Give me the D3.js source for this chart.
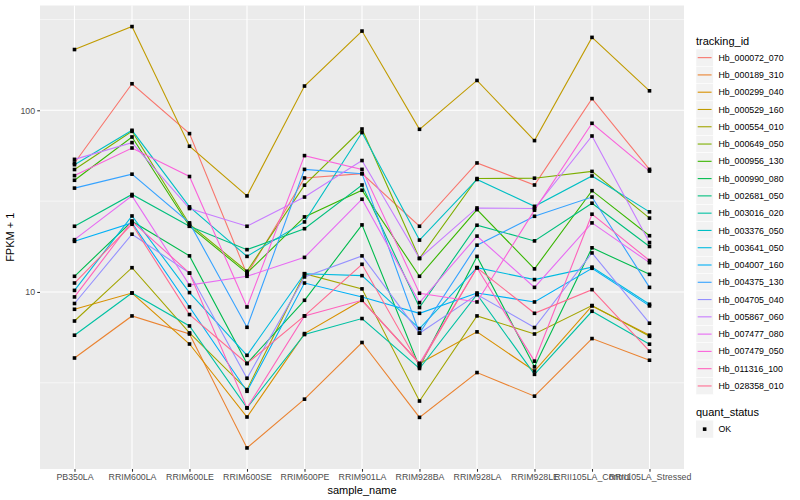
<!DOCTYPE html>
<html>
<head>
<meta charset="utf-8">
<script src="https://cdn.jsdelivr.net/npm/d3@7"></script>
<style>
  body { margin: 0; background: #fff; }
  text { font-family: "Liberation Sans", Arial, sans-serif; }
</style>
</head>
<body>
<script>
/* values (FPKM + 1) */
var samples = ['PB350LA', 'RRIM600LA', 'RRIM600LE', 'RRIM600SE', 'RRIM600PE', 'RRIM901LA',
  'RRIM928BA', 'RRIM928LA', 'RRIM928LE', 'RRII105LA_Control', 'RRII105LA_Stressed'];

var trackingIds = ['Hb_000072_070', 'Hb_000189_310', 'Hb_000299_040', 'Hb_000529_160',
  'Hb_000554_010', 'Hb_000649_050', 'Hb_000956_130', 'Hb_000990_080', 'Hb_002681_050',
  'Hb_003016_020', 'Hb_003376_050', 'Hb_003641_050', 'Hb_004007_160', 'Hb_004375_130',
  'Hb_004705_040', 'Hb_005867_060', 'Hb_007477_080', 'Hb_007479_050', 'Hb_011316_100',
  'Hb_028358_010'];

var fpkm = [
  [51.3, 140, 74.4, 12.5, 42.4, 44.8, 23.0, 51.3, 38.8, 116, 47.3],
  [4.33, 7.38, 5.87, 1.385, 2.57, 5.27, 2.04, 3.60, 2.67, 5.54, 4.21],
  [8.03, 9.87, 5.17, 2.05, 5.90, 9.00, 4.04, 6.03, 3.67, 8.38, 5.78],
  [216, 289, 63.4, 33.8, 136, 273, 78.6, 146, 68.1, 252, 128],
  [6.92, 13.6, 5.95, 2.90, 12.6, 10.4, 2.51, 7.38, 5.87, 8.42, 5.70],
  [47.2, 76.6, 23.6, 13.0, 38.7, 78.9, 15.3, 42.1, 42.3, 46.1, 25.5],
  [41.2, 71.3, 23.0, 12.7, 25.9, 36.3, 12.2, 28.4, 13.4, 36.1, 20.4],
  [12.2, 24.5, 15.8, 4.04, 9.00, 23.4, 3.87, 15.7, 3.87, 17.5, 12.5],
  [23.0, 34.4, 23.0, 17.1, 22.3, 38.8, 8.21, 23.3, 19.1, 30.8, 17.8],
  [5.78, 9.87, 6.50, 2.30, 5.83, 7.14, 3.79, 9.68, 3.52, 7.83, 5.16],
  [50.2, 77.6, 29.4, 15.7, 24.3, 75.4, 19.3, 41.6, 29.6, 43.5, 27.6],
  [10.2, 26.2, 9.92, 4.48, 12.6, 12.3, 6.29, 13.6, 11.7, 13.7, 8.56],
  [19.0, 24.0, 8.27, 2.84, 11.2, 9.39, 7.63, 9.87, 8.81, 13.5, 8.38],
  [37.3, 44.5, 24.0, 6.39, 47.3, 44.8, 5.93, 18.1, 26.1, 33.3, 10.6],
  [8.64, 20.8, 12.7, 3.35, 12.1, 15.8, 5.93, 9.68, 6.37, 16.4, 6.73],
  [53.7, 66.4, 28.8, 23.0, 33.3, 52.9, 15.3, 29.0, 28.8, 72.2, 18.7],
  [19.4, 33.8, 10.9, 12.2, 15.5, 32.4, 8.74, 20.3, 10.6, 24.0, 14.5],
  [43.7, 62.0, 43.2, 8.27, 56.3, 47.3, 9.84, 8.81, 28.2, 84.8, 46.3],
  [9.39, 24.5, 12.7, 2.30, 7.38, 9.00, 4.04, 13.6, 4.16, 26.8, 14.9],
  [11.2, 23.6, 7.51, 4.04, 7.38, 14.2, 3.94, 13.6, 7.63, 10.3, 4.72]
];

var hueColours = ['#F8766D', '#EA8331', '#D89000', '#C09B00', '#A3A500', '#7CAE00', '#39B600',
  '#00BB4E', '#00BF7D', '#00C1A3', '#00BFC4', '#00BAE0', '#00B0F6', '#35A2FF', '#9590FF',
  '#C77CFF', '#E76BF3', '#FA62DB', '#FF62BC', '#FF6C91'];

var yTicks = [10, 100];
var quantStatus = ['OK'];

var w = 800,
    h = 500;

var pLeft = 40, pRight = 684, pTop = 5.5, pBottom = 469;

var svg = d3.select('body').append('svg')
  .attr('width', w)
  .attr('height', h);

var x = d3.scalePoint()
  .domain(samples)
  .range([pLeft, pRight])
  .padding(0.6);

// log scale with ggplot's 5% expansion
var ext = d3.extent(d3.merge(fpkm));
var lo = Math.log10(ext[0]), hi = Math.log10(ext[1]), pad = (hi - lo) * 0.05;
var y = d3.scaleLog()
  .domain([Math.pow(10, lo - pad), Math.pow(10, hi + pad)])
  .range([pBottom, pTop]);

var colour = d3.scaleOrdinal().domain(trackingIds).range(hueColours);

// panel
svg.append('rect')
  .attr('x', pLeft).attr('y', pTop)
  .attr('width', pRight - pLeft).attr('height', pBottom - pTop)
  .attr('fill', '#EBEBEB');

// minor grid half way between the breaks (in log space)
var minor = [];
for (var e = -1; e <= 3; e++) {
  var m = Math.pow(10, e + 0.5);
  if (m > y.domain()[0] && m < y.domain()[1]) minor.push(m);
}

svg.append('g').selectAll('line')
  .data(minor)
  .enter()
  .append('line')
    .attr('x1', pLeft).attr('x2', pRight)
    .attr('y1', function(d) { return y(d); })
    .attr('y2', function(d) { return y(d); })
    .attr('stroke', '#fff')
    .attr('stroke-width', 0.55);

svg.append('g').selectAll('line')
  .data(yTicks)
  .enter()
  .append('line')
    .attr('x1', pLeft).attr('x2', pRight)
    .attr('y1', function(d) { return y(d); })
    .attr('y2', function(d) { return y(d); })
    .attr('stroke', '#fff')
    .attr('stroke-width', 1.1);

svg.append('g').selectAll('line')
  .data(samples)
  .enter()
  .append('line')
    .attr('y1', pTop).attr('y2', pBottom)
    .attr('x1', function(d) { return x(d); })
    .attr('x2', function(d) { return x(d); })
    .attr('stroke', '#fff')
    .attr('stroke-width', 1.1);

// lines
var line = d3.line()
  .x(function(d, i) { return x(samples[i]); })
  .y(function(d) { return y(d); });

svg.append('g').selectAll('path')
  .data(fpkm)
  .enter()
  .append('path')
    .attr('d', line)
    .attr('fill', 'none')
    .attr('stroke', function(d, i) { return colour(trackingIds[i]); })
    .attr('stroke-width', 1.1);

// points
var pts = [];
fpkm.forEach(function(row) {
  row.forEach(function(v, i) { pts.push({ s: samples[i], v: v }); });
});

svg.append('g').selectAll('rect')
  .data(pts)
  .enter()
  .append('rect')
    .attr('x', function(d) { return x(d.s) - 1.8; })
    .attr('y', function(d) { return y(d.v) - 1.8; })
    .attr('width', 3.6)
    .attr('height', 3.6)
    .attr('fill', '#000');

// axes
var yAxis = svg.append('g')
  .attr('transform', translation(pLeft, 0))
  .call(d3.axisLeft(y).tickValues(yTicks).tickFormat(d3.format('d'))
    .tickSize(2.75).tickPadding(2.2));

var xAxis = svg.append('g')
  .attr('transform', translation(0, pBottom))
  .call(d3.axisBottom(x).tickSize(2.75).tickPadding(2.2));

[yAxis, xAxis].forEach(function(a) {
  a.select('.domain').remove();
  a.selectAll('.tick line').attr('stroke', '#333333').attr('stroke-width', 1.07);
  a.selectAll('.tick text')
    .attr('fill', '#4D4D4D')
    .style('font-size', '8.8px')
    .style('font-family', '"Liberation Sans", Arial, sans-serif');
});

svg.append('text')
  .attr('x', (pLeft + pRight) / 2)
  .attr('y', 494)
  .attr('text-anchor', 'middle')
  .style('font-size', '11px')
  .text('sample_name');

svg.append('text')
  .attr('transform', translation(13.5, (pTop + pBottom) / 2) + ' rotate(-90)')
  .attr('text-anchor', 'middle')
  .style('font-size', '11px')
  .text('FPKM + 1');

// legend: tracking_id
var key = 17.28;
var legend = svg.append('g').attr('transform', translation(696, 0));

legend.append('text')
  .attr('x', 0).attr('y', 44.5)
  .style('font-size', '11px')
  .text('tracking_id');

var items = legend.selectAll('.item')
  .data(trackingIds)
  .enter()
  .append('g')
    .attr('transform', function(d, i) { return translation(0, 49 + i * key); });

items.append('rect')
  .attr('width', key).attr('height', key)
  .attr('fill', '#F2F2F2')
  .attr('stroke', '#fff')
  .attr('stroke-width', 0.5);

items.append('line')
  .attr('x1', 1.7).attr('x2', key - 1.7)
  .attr('y1', key / 2).attr('y2', key / 2)
  .attr('stroke', function(d) { return colour(d); })
  .attr('stroke-width', 1.1);

items.append('text')
  .attr('x', key + 5.2)
  .attr('y', key / 2 + 3.1)
  .style('font-size', '8.8px')
  .text(function(d) { return d; });

// legend: quant_status
legend.append('text')
  .attr('x', 0).attr('y', 416)
  .style('font-size', '11px')
  .text('quant_status');

var q = legend.selectAll('.q')
  .data(quantStatus)
  .enter()
  .append('g')
    .attr('transform', function(d, i) { return translation(0, 420.5 + i * key); });

q.append('rect')
  .attr('width', key).attr('height', key)
  .attr('fill', '#F2F2F2');

q.append('rect')
  .attr('x', key / 2 - 1.8).attr('y', key / 2 - 1.8)
  .attr('width', 3.6).attr('height', 3.6)
  .attr('fill', '#000');

q.append('text')
  .attr('x', key + 5.2)
  .attr('y', key / 2 + 3.1)
  .style('font-size', '8.8px')
  .text(function(d) { return d; });

function translation(a, b) {
  return 'translate(' + a + ',' + b + ')';
}
</script>
</body>
</html>
